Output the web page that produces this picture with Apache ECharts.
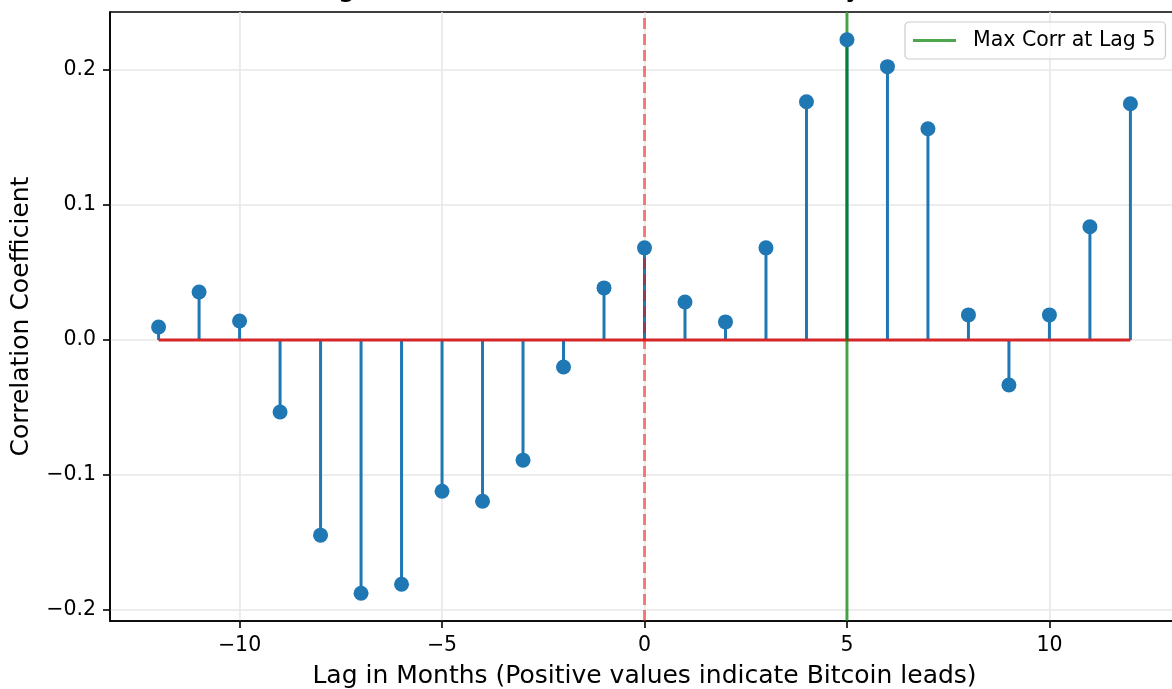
<!DOCTYPE html>
<html>
<head>
<meta charset="utf-8">
<script src="https://cdn.jsdelivr.net/npm/echarts@6/dist/echarts.min.js"></script>
<style>
  html, body { margin: 0; padding: 0; background: #fff; overflow: hidden; }
  #chart { width: 1200px; height: 689px; }
</style>
</head>
<body>
<div id="chart"></div>
<script>
// Lags (months) and cross-correlation coefficients
const lags = [-12, -11, -10, -9, -8, -7, -6, -5, -4, -3, -2, -1, 0, 1, 2, 3, 4, 5, 6, 7, 8, 9, 10, 11, 12];
const corr = [0.0096, 0.0356, 0.0141, -0.0534, -0.1447, -0.1878, -0.1811, -0.1121, -0.1195, -0.0891, -0.0200,
              0.0386, 0.0683, 0.0282, 0.0134, 0.0683, 0.1766, 0.2226, 0.2026, 0.1566, 0.0186, -0.0334,
              0.0186, 0.0839, 0.1751];
const xTicks = [-10, -5, 0, 5, 10];
const yTicks = [-0.2, -0.1, 0.0, 0.1, 0.2];
const maxLag = 5;
const titleText = 'Figure 4: Cross-Correlation of Monthly Returns';
const legendText = 'Max Corr at Lag 5';

// Axis limits with a 5% margin around the data
const xLo = Math.min(...lags), xHi = Math.max(...lags);
const xPad = (xHi - xLo) * 0.05;
const yLo = Math.min(...corr), yHi = Math.max(...corr);
const yPad = (yHi - yLo) * 0.05;
const xMin = xLo - xPad, xMax = xHi + xPad;
const yMin = yLo - yPad, yMax = yHi + yPad;

const FONT = 'DejaVu Sans';
const minus = s => String(s).replace('-', '\u2212');
const points = lags.map((l, i) => [l, corr[i]]);

const chart = echarts.init(document.getElementById('chart'));
chart.setOption({
  animation: false,
  backgroundColor: '#ffffff',
  title: {
    text: titleText,
    left: 644,
    textAlign: 'center',
    top: -31,
    textStyle: { fontFamily: FONT, fontSize: 29, fontWeight: 'normal', color: '#000' }
  },
  legend: {
    data: [legendText],
    left: 905,
    top: 22,
    padding: [8, 10, 8, 8],
    backgroundColor: 'rgba(255,255,255,0.8)',
    borderColor: '#cccccc',
    borderWidth: 1.2,
    borderRadius: 4,
    icon: 'rect',
    itemWidth: 43,
    itemHeight: 3,
    textStyle: { fontFamily: FONT, fontSize: 20.5, color: '#000', padding: [0, 0, 0, 12] }
  },
  grid: {
    left: 110, top: 12, width: 1069, height: 609,
    outerBoundsMode: 'none',
    show: true, borderColor: '#000', borderWidth: 1.6, backgroundColor: 'transparent'
  },
  xAxis: {
    type: 'value', min: xMin, max: xMax,
    name: 'Lag in Months (Positive values indicate Bitcoin leads)',
    nameLocation: 'middle', nameGap: 43,
    nameTextStyle: { fontFamily: FONT, fontSize: 25, color: '#000' },
    axisLine: { show: true, onZero: false, lineStyle: { color: '#000', width: 1.6 } },
    axisTick: { show: true, inside: false, length: 7, customValues: xTicks, lineStyle: { color: '#000', width: 1.6 } },
    axisLabel: { customValues: xTicks, margin: 14, fontFamily: FONT, fontSize: 20.5, color: '#000',
                 formatter: v => minus(v) },
    splitLine: { show: true, lineStyle: { color: '#e7e7e7', width: 1.6 } }
  },
  yAxis: {
    type: 'value', min: yMin, max: yMax,
    name: 'Correlation Coefficient',
    nameLocation: 'middle', nameGap: 76,
    nameTextStyle: { fontFamily: FONT, fontSize: 25, color: '#000' },
    axisLine: { show: true, onZero: false, lineStyle: { color: '#000', width: 1.6 } },
    axisTick: { show: true, inside: false, length: 7, customValues: yTicks, lineStyle: { color: '#000', width: 1.6 } },
    axisLabel: { customValues: yTicks, margin: 14, fontFamily: FONT, fontSize: 20.5, color: '#000',
                 formatter: v => minus(v.toFixed(1)) },
    splitLine: { show: true, lineStyle: { color: '#e7e7e7', width: 1.6 } }
  },
  series: [
    {
      // stems from zero to each coefficient
      type: 'custom', z: 2, silent: true,
      data: points,
      renderItem: (params, api) => {
        const p0 = api.coord([api.value(0), 0]);
        const p1 = api.coord([api.value(0), api.value(1)]);
        return { type: 'line', shape: { x1: p0[0], y1: p0[1], x2: p1[0], y2: p1[1] },
                 style: { stroke: '#1f77b4', lineWidth: 3 } };
      }
    },
    {
      // zero baseline
      type: 'line', z: 3, silent: true, symbol: 'none',
      data: [[xLo, 0], [xHi, 0]],
      lineStyle: { color: '#d62728', width: 3 }
    },
    {
      // zero-lag reference
      type: 'line', z: 4, silent: true, symbol: 'none',
      data: [[0, yMin], [0, yMax]],
      lineStyle: { color: 'rgba(255,0,0,0.5)', width: 3, type: [11, 5] }
    },
    {
      name: legendText,
      type: 'line', z: 5, silent: true, symbol: 'none',
      color: 'rgba(0,128,0,0.7)',
      data: [[maxLag, yMin], [maxLag, yMax]],
      lineStyle: { color: 'rgba(0,128,0,0.7)', width: 3 }
    },
    {
      // stem markers
      type: 'scatter', z: 6, silent: true,
      data: points,
      symbol: 'circle', symbolSize: 15,
      itemStyle: { color: '#1f77b4', opacity: 1 }
    }
  ]
});
</script>
</body>
</html>
